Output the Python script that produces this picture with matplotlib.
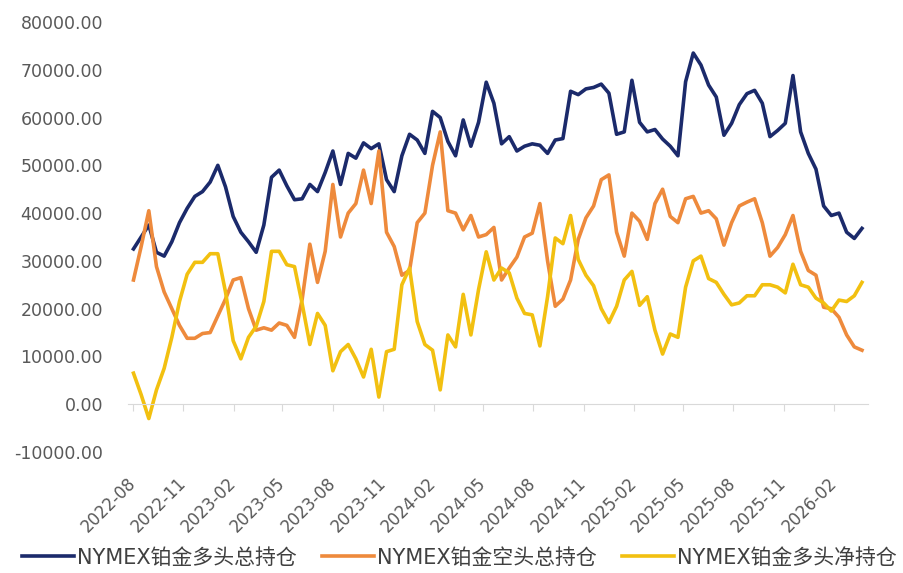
import pandas as pd
import matplotlib
matplotlib.use('Agg')
import matplotlib.pyplot as plt
import matplotlib.dates as mdates
from matplotlib.ticker import FormatStrFormatter

# NYMEX platinum positions, bi-weekly readings from the chart
dates = pd.date_range('2022-08-02', periods=96, freq='14D')

long_total = [
    32500, 35000, 37500, 31800, 31000, 34000, 38000, 41000, 43500, 44500,
    46500, 50000, 45500, 39300, 36000, 34000, 31800, 37500, 47500, 49000,
    45700, 42800, 43000, 46000, 44500, 48500, 53000, 46000, 52500, 51500,
    54700, 53500, 54500, 47000, 44500, 52000, 56500, 55300, 52500, 61300,
    60000, 55000, 52000, 59500, 54000, 59000, 67400, 63000, 54500, 56000,
    53000, 54000, 54500, 54200, 52500, 55300, 55600, 65500, 64800, 66000,
    66300, 67000, 65100, 56500, 57000, 67800, 59000, 57000, 57500, 55500,
    54000, 52000, 67500, 73500, 71000, 66800, 64300, 56300, 58800, 62700,
    65000, 65700, 63000, 56000, 57300, 58800, 68800, 57000, 52500, 49200,
    41500, 39500, 40000, 36000, 34700, 36800,
]

short_total = [
    26000, 33000, 40500, 28800, 23500, 20000, 16500, 13800, 13800, 14800,
    15000, 18500, 22000, 26000, 26500, 20000, 15500, 16000, 15500, 17000,
    16500, 14000, 22000, 33500, 25500, 32000, 46000, 35000, 40000, 42000,
    49000, 42000, 53000, 36000, 33000, 27000, 28000, 38000, 40000, 50000,
    57000, 40500, 40000, 36500, 39500, 35000, 35500, 37000, 26000, 28500,
    30800, 35000, 35800, 42000, 30000, 20500, 22000, 26000, 34500, 39000,
    41500, 47000, 48000, 36000, 31000, 40000, 38300, 34500, 42000, 45000,
    39300, 38000, 43000, 43500, 40000, 40500, 38800, 33300, 38000, 41500,
    42300, 43000, 38000, 31000, 32800, 35500, 39500, 32000, 28000, 27000,
    20300, 20000, 18200, 14500, 12000, 11300,
]

# net long = long - short
net_long = [l - s for l, s in zip(long_total, short_total)]

labels = ['NYMEX铂金多头总持仓', 'NYMEX铂金空头总持仓', 'NYMEX铂金多头净持仓']
colors = ['#1B2A6B', '#EE8A3C', '#F2C010']

plt.rcParams['font.family'] = ['DejaVu Sans', 'Noto Sans CJK SC']

fig = plt.figure(figsize=(9.04, 5.73), dpi=100)
ax = fig.add_axes([128 / 904, 1 - 452 / 573, 740 / 904, 430 / 573])

ax.plot(dates, long_total, color=colors[0], lw=2.6, label=labels[0])
ax.plot(dates, short_total, color=colors[1], lw=2.6, label=labels[1])
ax.plot(dates, net_long, color=colors[2], lw=2.6, label=labels[2])

ax.set_ylim(-10000, 80000)
ax.set_yticks(range(-10000, 80001, 10000))
ax.yaxis.set_major_formatter(FormatStrFormatter('%.2f'))
start = pd.Timestamp('2022-08-01')
ax.set_xlim(start - pd.Timedelta(days=9), start + pd.Timedelta(days=1342))
ticks = pd.date_range('2022-08-01', '2026-02-01', freq='3MS')
ax.set_xticks(ticks)
ax.xaxis.set_major_formatter(mdates.DateFormatter('%Y-%m'))

for s in ['left', 'top', 'right']:
    ax.spines[s].set_visible(False)
ax.spines['bottom'].set_position(('data', 0))
ax.spines['bottom'].set_color('#D9D9D9')
ax.tick_params(axis='y', length=0, labelsize=12.5, labelcolor='#595959', pad=18)
ax.tick_params(axis='x', length=5, color='#D9D9D9', labelsize=12,
               labelcolor='#595959', pad=50)
for t in ax.get_xticklabels():
    t.set_rotation(45)
    t.set_ha('right')
    t.set_rotation_mode('anchor')
    t.set_va('center')

fig.legend(loc='center', bbox_to_anchor=(0.508, 0.027), ncol=3, frameon=False,
           fontsize=15, handlelength=2.5, handletextpad=0.15, columnspacing=1.2,
           labelcolor='#404040')

fig.savefig('out.png', dpi=100)
